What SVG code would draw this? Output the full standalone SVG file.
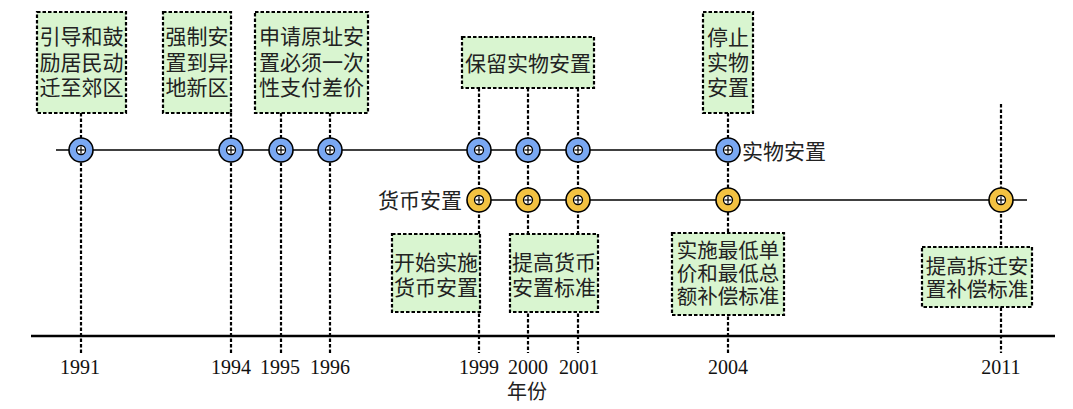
<svg xmlns="http://www.w3.org/2000/svg" xmlns:xlink="http://www.w3.org/1999/xlink" width="1073" height="409" viewBox="0 0 1073 409">
<style>
.bg{fill:#ffffff}
.dash{stroke:#000;stroke-width:2.2;stroke-dasharray:3.5,2;fill:none}
.axis{stroke:#000;stroke-width:2.5}
.hl{stroke:#000;stroke-width:1.5}
.box{fill:#d9f5d0;stroke:#000;stroke-width:2.2;stroke-dasharray:3.5,2}
.t{font-family:"Liberation Sans","Noto Sans CJK SC",sans-serif;font-size:21px;fill:#222;text-anchor:middle}
.ts{font-size:20.5px}
.lbl{font-family:"Liberation Sans","Noto Sans CJK SC",sans-serif;font-size:21px;fill:#222}
.yr{font-family:"Liberation Serif",serif;font-size:20px;fill:#111;text-anchor:middle}
.blue{fill:#7aa8f2;stroke:#000;stroke-width:1.6}
.orange{fill:#f3c242;stroke:#000;stroke-width:1.6}
.inner{fill:#fff;stroke:#000;stroke-width:1.3}
.plus{stroke:#000;stroke-width:1.2}
</style>
<defs>
<g id="core">
<circle class="inner" r="4.5"/>
<line class="plus" x1="-3.5" y1="0" x2="3.5" y2="0"/>
<line class="plus" x1="0" y1="-3.5" x2="0" y2="3.5"/>
</g>
</defs>
<rect class="bg" width="1073" height="409"/>
<g id="connectors">
<line class="dash" x1="81" y1="113" x2="81" y2="353"/>
<line class="dash" x1="231" y1="113" x2="231" y2="353"/>
<line class="dash" x1="281" y1="113" x2="281" y2="353"/>
<line class="dash" x1="330" y1="113" x2="330" y2="353"/>
<line class="dash" x1="479" y1="88" x2="479" y2="353"/>
<line class="dash" x1="528" y1="88" x2="528" y2="353"/>
<line class="dash" x1="578" y1="88" x2="578" y2="353"/>
<line class="dash" x1="728" y1="113" x2="728" y2="353"/>
<line class="dash" x1="1001" y1="104" x2="1001" y2="353"/>
<line class="axis" x1="31" y1="336" x2="1055" y2="336"/>
<line class="hl" x1="56" y1="150" x2="740" y2="150"/>
<line class="hl" x1="479" y1="200" x2="1027" y2="200"/>
</g>
<g id="markers">
<g transform="translate(81,150)"><circle class="blue" r="12"/><use xlink:href="#core"/></g>
<g transform="translate(231,150)"><circle class="blue" r="12"/><use xlink:href="#core"/></g>
<g transform="translate(281,150)"><circle class="blue" r="12"/><use xlink:href="#core"/></g>
<g transform="translate(330,150)"><circle class="blue" r="12"/><use xlink:href="#core"/></g>
<g transform="translate(479,150)"><circle class="blue" r="12"/><use xlink:href="#core"/></g>
<g transform="translate(528,150)"><circle class="blue" r="12"/><use xlink:href="#core"/></g>
<g transform="translate(578,150)"><circle class="blue" r="12"/><use xlink:href="#core"/></g>
<g transform="translate(728,150)"><circle class="blue" r="12"/><use xlink:href="#core"/></g>
<g transform="translate(479,200)"><circle class="orange" r="12"/><use xlink:href="#core"/></g>
<g transform="translate(528,200)"><circle class="orange" r="12"/><use xlink:href="#core"/></g>
<g transform="translate(578,200)"><circle class="orange" r="12"/><use xlink:href="#core"/></g>
<g transform="translate(728,200)"><circle class="orange" r="12"/><use xlink:href="#core"/></g>
<g transform="translate(1001,200)"><circle class="orange" r="12"/><use xlink:href="#core"/></g>
</g>
<g id="line-labels">
<text class="lbl" x="742" y="158.5">实物安置</text>
<text class="lbl" x="462" y="207.5" text-anchor="end">货币安置</text>
</g>
<g id="n1991">
<rect class="box" x="37" y="12" width="89" height="101"/>
<text class="t" x="81.5" y="43.5">引导和鼓</text>
<text class="t" x="81.5" y="69.5">励居民动</text>
<text class="t" x="81.5" y="95">迁至郊区</text>
</g>
<g id="n1994">
<rect class="box" x="163" y="12" width="68" height="101"/>
<text class="t" x="197" y="43.5">强制安</text>
<text class="t" x="197" y="69.5">置到异</text>
<text class="t" x="197" y="95">地新区</text>
</g>
<g id="n1995">
<rect class="box" x="255" y="12" width="113" height="101"/>
<text class="t" x="311.5" y="43.5">申请原址安</text>
<text class="t" x="311.5" y="69.5">置必须一次</text>
<text class="t" x="311.5" y="95">性支付差价</text>
</g>
<g id="n1999a">
<rect class="box" x="462" y="37" width="132" height="51"/>
<text class="t" x="528" y="70.5">保留实物安置</text>
</g>
<g id="n2004a">
<rect class="box" x="703" y="12" width="50" height="101"/>
<text class="t" x="728" y="45">停止</text>
<text class="t" x="728" y="70">实物</text>
<text class="t" x="728" y="94.5">安置</text>
</g>
<g id="n1999b">
<rect class="box" x="392" y="234" width="88" height="78"/>
<text class="t" x="436" y="269.5">开始实施</text>
<text class="t" x="436" y="294.5">货币安置</text>
</g>
<g id="n2000">
<rect class="box" x="510" y="234" width="88" height="78"/>
<text class="t" x="554" y="269.5">提高货币</text>
<text class="t" x="554" y="294.5">安置标准</text>
</g>
<g id="n2004b">
<rect class="box" x="672" y="233" width="112" height="82"/>
<text class="t ts" x="728" y="257.5">实施最低单</text>
<text class="t ts" x="728" y="280.5">价和最低总</text>
<text class="t ts" x="728" y="303.5">额补偿标准</text>
</g>
<g id="n2011">
<rect class="box" x="922" y="247" width="110" height="60"/>
<text class="t ts" x="977" y="274">提高拆迁安</text>
<text class="t ts" x="977" y="297">置补偿标准</text>
</g>
<g id="axis-labels">
<text class="yr" x="80" y="374">1991</text>
<text class="yr" x="231" y="374">1994</text>
<text class="yr" x="280" y="374">1995</text>
<text class="yr" x="330" y="374">1996</text>
<text class="yr" x="479" y="374">1999</text>
<text class="yr" x="528" y="374">2000</text>
<text class="yr" x="579" y="374">2001</text>
<text class="yr" x="728" y="374">2004</text>
<text class="yr" x="1001" y="374">2011</text>
<text class="t" x="527" y="399" style="font-size:20px">年份</text>
</g>
</svg>
